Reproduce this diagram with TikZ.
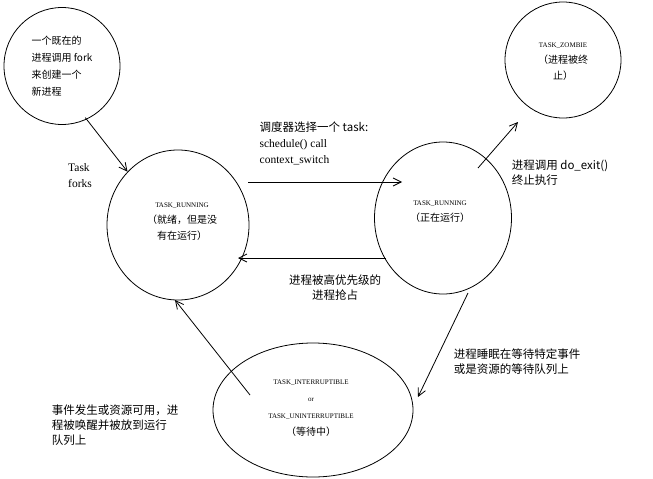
\documentclass[tikz,border=0pt]{standalone}
\usepackage{fontspec}
\setmainfont{Liberation Serif}
\newfontfamily\cjk{Noto Sans CJK SC}
\usetikzlibrary{arrows.meta,shapes.geometric}
\begin{document}
\begin{tikzpicture}[x=1pt,y=-1pt,
  st/.style={draw,thick,ellipse,inner sep=0pt},
  arr/.style={-{Straight Barb[length=8pt,width=8pt]},thick},
  lab/.style={font=\cjk\fontsize{11.5}{15}\selectfont,align=left},
  sm/.style={font=\fontsize{7}{11}\selectfont,align=center}]
\useasboundingbox (0,0) rectangle (653,479);
\node[st,minimum width=116pt,minimum height=117pt] (fork) at (62,66) {};
\node[lab,align=left,font=\cjk\fontsize{10}{17}\selectfont] at (62,66) {一个既在的\\进程调用 fork\\来创建一个\\新进程};
\node[st,minimum width=116pt,minimum height=116pt] (zom) at (563,60) {};
\node[sm,font=\fontsize{7}{16}\selectfont] at (563,62) {TASK\_ZOMBIE\\{\cjk\fontsize{10}{16}\selectfont （进程被终}\\{\cjk\fontsize{10}{16}\selectfont 止）}};
\node[st,minimum width=142pt,minimum height=150pt] (run1) at (178,225) {};
\node[sm,font=\fontsize{7}{16}\selectfont] at (182,222) {TASK\_RUNNING\\{\cjk\fontsize{10}{16}\selectfont （就绪，但是没}\\{\cjk\fontsize{10}{16}\selectfont 有在运行）}};
\node[st,minimum width=137pt,minimum height=152pt] (run2) at (443,218) {};
\node[sm,font=\fontsize{7}{16}\selectfont] at (440,212) {TASK\_RUNNING\\{\cjk\fontsize{10}{16}\selectfont （正在运行）}};
\node[st,minimum width=200pt,minimum height=134pt] (wait) at (313,410) {};
\node[sm,font=\fontsize{7}{17}\selectfont] at (311,408) {TASK\_INTERRUPTIBLE\\or\\TASK\_UNINTERRUPTIBLE\\{\cjk\fontsize{10}{15}\selectfont （等待中）}};
\draw[arr] (fork.south east) ++(-18,10) coordinate (f1) -- (run1.north west);
\draw[arr] (248,182) -- (402,182);
\draw[arr] (386,258) -- (238,258);
\draw[arr] (478,168) -- (518,122);
\draw[arr] (468,293) -- (418,397);
\draw[arr] (250,395) -- (175,300);
\node[font=\fontsize{11.5}{16}\selectfont,align=left] at (80,176) {Task\\forks};
\node[font=\fontsize{11.5}{16}\selectfont,align=left] at (314,143) {{\cjk 调度器选择一个 task:}\\ schedule() call\\ context\_switch};
\node[lab,align=center] at (335,288) {进程被高优先级的\\进程抢占};
\node[lab] at (560,173) {进程调用 do\_exit()\\终止执行};
\node[lab] at (517,362) {进程睡眠在等待特定事件\\或是资源的等待队列上};
\node[lab] at (115,425) {事件发生或资源可用，进\\程被唤醒并被放到运行\\队列上};
\end{tikzpicture}
\end{document}
